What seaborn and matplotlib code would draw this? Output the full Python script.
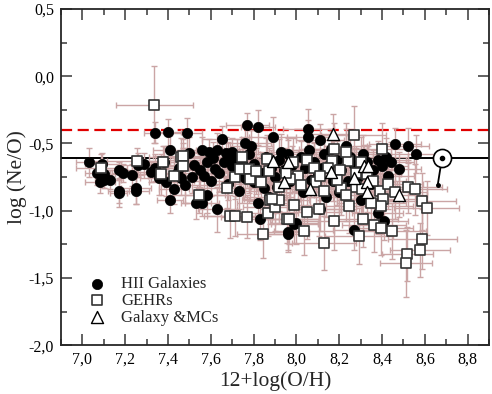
import matplotlib
matplotlib.use("Agg")
import matplotlib.pyplot as plt
import seaborn as sns
import pandas as pd
from matplotlib.ticker import MultipleLocator, FuncFormatter

# (12+log(O/H), log(Ne/O), xerr, yerr)
hii = [
    (7.03, -0.64, 0.06, 0.11), (7.09, -0.65, 0.08, 0.08), (7.07, -0.72, 0.06, 0.09),
    (7.10, -0.73, 0.05, 0.10), (7.08, -0.79, 0.07, 0.08), (7.10, -0.77, 0.04, 0.06),
    (7.13, -0.77, 0.05, 0.07), (7.17, -0.70, 0.06, 0.06), (7.19, -0.72, 0.05, 0.07),
    (7.23, -0.735, 0.06, 0.08), (7.17, -0.855, 0.05, 0.09), (7.25, -0.83, 0.07, 0.12),
    (7.17, -0.87, 0.04, 0.10), (7.25, -0.85, 0.06, 0.10), (7.26, -0.66, 0.08, 0.09),
    (7.29, -0.65, 0.06, 0.08), (7.34, -0.42, 0.05, 0.08), (7.40, -0.415, 0.06, 0.10),
    (7.41, -0.55, 0.08, 0.12), (7.34, -0.68, 0.10, 0.10), (7.32, -0.71, 0.07, 0.08),
    (7.36, -0.76, 0.09, 0.12), (7.39, -0.79, 0.08, 0.10), (7.43, -0.84, 0.07, 0.11),
    (7.41, -0.92, 0.06, 0.10), (7.45, -0.68, 0.10, 0.09), (7.47, -0.62, 0.08, 0.12),
    (7.49, -0.42, 0.07, 0.11), (7.50, -0.57, 0.09, 0.12), (7.56, -0.55, 0.10, 0.10),
    (7.59, -0.56, 0.12, 0.09), (7.63, -0.55, 0.10, 0.13), (7.67, -0.57, 0.08, 0.12),
    (7.70, -0.56, 0.11, 0.10), (7.76, -0.50, 0.12, 0.14), (7.79, -0.52, 0.10, 0.12),
    (7.65, -0.47, 0.09, 0.10), (7.77, -0.36, 0.10, 0.09), (7.82, -0.38, 0.08, 0.13),
    (7.53, -0.94, 0.07, 0.12), (7.56, -0.94, 0.08, 0.10), (7.58, -0.88, 0.10, 0.14),
    (7.63, -0.99, 0.09, 0.17), (7.52, -0.66, 0.12, 0.10), (7.55, -0.70, 0.10, 0.12),
    (7.57, -0.74, 0.09, 0.13), (7.60, -0.78, 0.08, 0.11), (7.62, -0.69, 0.12, 0.12),
    (7.64, -0.72, 0.10, 0.14), (7.66, -0.64, 0.11, 0.10), (7.68, -0.80, 0.09, 0.12),
    (7.70, -0.67, 0.12, 0.12), (7.72, -0.62, 0.10, 0.15), (7.74, -0.71, 0.12, 0.12),
    (7.76, -0.76, 0.10, 0.14), (7.78, -0.58, 0.11, 0.13), (7.80, -0.65, 0.12, 0.12),
    (7.82, -0.94, 0.10, 0.13), (7.83, -1.065, 0.09, 0.15), (7.84, -0.72, 0.13, 0.12),
    (7.86, -0.60, 0.10, 0.14), (7.88, -0.68, 0.12, 0.13), (7.89, -0.455, 0.11, 0.15),
    (7.90, -0.75, 0.13, 0.14), (7.92, -0.62, 0.10, 0.15), (7.94, -0.70, 0.12, 0.12),
    (7.96, -1.17, 0.10, 0.14), (7.96, -0.58, 0.13, 0.12), (7.98, -0.66, 0.11, 0.14),
    (8.00, -1.095, 0.10, 0.15), (8.00, -0.74, 0.12, 0.13), (8.02, -0.60, 0.13, 0.12),
    (8.04, -0.68, 0.10, 0.14), (8.056, -0.39, 0.12, 0.15), (8.055, -0.455, 0.10, 0.13),
    (8.11, -0.475, 0.11, 0.12), (8.06, -0.55, 0.13, 0.14), (8.08, -0.64, 0.12, 0.15),
    (8.10, -0.72, 0.11, 0.14), (8.11, -0.99, 0.10, 0.16), (8.13, -0.58, 0.12, 0.14),
    (8.15, -0.66, 0.13, 0.13), (8.17, -0.78, 0.10, 0.15), (8.19, -0.62, 0.12, 0.14),
    (8.21, -0.70, 0.11, 0.15), (8.23, -0.52, 0.10, 0.13), (8.25, -0.60, 0.12, 0.16),
    (8.27, -1.14, 0.10, 0.15), (8.27, -0.66, 0.12, 0.13), (8.29, -0.75, 0.13, 0.15),
    (8.31, -0.58, 0.10, 0.14), (8.33, -0.64, 0.12, 0.13), (8.36, -0.70, 0.11, 0.15),
    (8.38, -0.62, 0.13, 0.14), (8.40, -0.67, 0.12, 0.16), (8.42, -0.60, 0.10, 0.14),
    (8.44, -0.64, 0.11, 0.15), (8.46, -0.505, 0.12, 0.12), (8.52, -0.517, 0.10, 0.13),
    (8.56, -0.58, 0.12, 0.14), (8.48, -0.69, 0.10, 0.13), (7.99, -1.10, 0.11, 0.14),
    (7.96, -1.16, 0.10, 0.13), (7.58, -0.64, 0.10, 0.11), (7.61, -0.61, 0.11, 0.12),
    (7.68, -0.60, 0.12, 0.11), (7.73, -0.85, 0.10, 0.14), (7.75, -0.66, 0.11, 0.12),
    (7.80, -0.79, 0.12, 0.13), (7.85, -0.83, 0.10, 0.14), (7.91, -0.82, 0.12, 0.15),
    (7.93, -0.56, 0.11, 0.13), (7.97, -0.78, 0.12, 0.14), (8.03, -0.86, 0.10, 0.15),
    (8.07, -0.77, 0.12, 0.13), (8.12, -0.68, 0.11, 0.14), (8.16, -0.54, 0.12, 0.13),
    (8.20, -0.86, 0.10, 0.15), (8.24, -0.78, 0.12, 0.14), (8.30, -0.92, 0.11, 0.15),
    (8.35, -0.80, 0.12, 0.14), (8.40, -0.92, 0.10, 0.15), (8.43, -0.74, 0.12, 0.14),
    (7.46, -0.76, 0.09, 0.12), (7.48, -0.81, 0.10, 0.13), (7.51, -0.75, 0.09, 0.12),
    (7.44, -0.72, 0.10, 0.11), (7.38, -0.64, 0.09, 0.12), (7.71, -0.74, 0.11, 0.13),
    (7.87, -0.90, 0.12, 0.14), (8.14, -0.90, 0.11, 0.15), (8.38, -1.02, 0.12, 0.15),
    (8.41, -1.08, 0.11, 0.14),
]

gehr = [
    (7.336, -0.21, 0.18, 0.29), (7.088, -0.68, 0.12, 0.10), (7.257, -0.63, 0.14, 0.10),
    (7.375, -0.64, 0.12, 0.12), (7.367, -0.73, 0.10, 0.15), (7.428, -0.74, 0.12, 0.13),
    (7.46, -0.60, 0.15, 0.14), (7.544, -0.88, 0.12, 0.14), (7.676, -0.83, 0.14, 0.15),
    (7.688, -1.04, 0.12, 0.16), (7.712, -1.04, 0.13, 0.15), (7.767, -1.045, 0.12, 0.16),
    (7.746, -0.60, 0.14, 0.15), (7.715, -0.75, 0.13, 0.16), (7.738, -0.69, 0.15, 0.15),
    (7.778, -0.69, 0.14, 0.18), (7.781, -0.765, 0.12, 0.16), (7.81, -0.705, 0.15, 0.17),
    (7.836, -0.785, 0.13, 0.16), (7.864, -0.616, 0.15, 0.18), (7.874, -0.705, 0.14, 0.17),
    (7.878, -0.92, 0.13, 0.18), (7.867, -1.016, 0.14, 0.17), (7.90, -0.97, 0.15, 0.18),
    (7.843, -1.17, 0.12, 0.18), (7.468, -0.594, 0.14, 0.13), (7.468, -0.67, 0.12, 0.14),
    (7.955, -1.06, 0.15, 0.18), (7.92, -0.92, 0.14, 0.17), (7.986, -0.636, 0.15, 0.18),
    (8.05, -0.62, 0.14, 0.19), (8.164, -0.63, 0.16, 0.18), (8.243, -0.63, 0.15, 0.19),
    (8.08, -0.68, 0.14, 0.18), (8.146, -0.685, 0.15, 0.17), (8.205, -0.70, 0.16, 0.18),
    (8.006, -0.74, 0.14, 0.19), (8.091, -0.785, 0.15, 0.18), (7.972, -0.767, 0.14, 0.17),
    (8.13, -0.85, 0.15, 0.19), (8.207, -0.83, 0.16, 0.20), (8.278, -0.82, 0.15, 0.19),
    (8.308, -0.84, 0.16, 0.20), (8.39, -0.855, 0.15, 0.19), (8.406, -0.916, 0.16, 0.20),
    (8.394, -0.966, 0.15, 0.21), (7.988, -0.96, 0.14, 0.19), (8.048, -1.01, 0.15, 0.20),
    (8.247, -0.964, 0.16, 0.20), (8.174, -1.08, 0.15, 0.21), (8.034, -1.15, 0.14, 0.18),
    (8.127, -1.24, 0.15, 0.20), (8.313, -1.06, 0.16, 0.21), (8.363, -1.11, 0.15, 0.20),
    (8.293, -1.19, 0.16, 0.21), (8.397, -1.13, 0.15, 0.20), (8.445, -1.15, 0.16, 0.21),
    (8.267, -0.44, 0.15, 0.22), (8.174, -0.544, 0.16, 0.20), (8.231, -0.56, 0.15, 0.21),
    (8.399, -0.544, 0.14, 0.20), (8.521, -0.82, 0.16, 0.20), (8.553, -0.84, 0.15, 0.19),
    (8.587, -0.93, 0.16, 0.21), (8.608, -0.98, 0.15, 0.20), (8.589, -1.21, 0.16, 0.22),
    (8.577, -1.29, 0.14, 0.20), (8.518, -1.32, 0.12, 0.20), (8.512, -1.39, 0.12, 0.25),
    (8.107, -0.99, 0.15, 0.20), (7.964, -1.06, 0.14, 0.19), (7.885, -0.91, 0.13, 0.18),
    (8.33, -0.73, 0.16, 0.19), (8.36, -0.78, 0.15, 0.20), (8.43, -0.80, 0.16, 0.19),
    (8.46, -0.86, 0.15, 0.20), (8.28, -0.72, 0.16, 0.19), (8.02, -0.81, 0.15, 0.18),
    (7.95, -0.72, 0.14, 0.19), (8.11, -0.74, 0.15, 0.18), (8.19, -0.77, 0.16, 0.19),
    (8.23, -0.88, 0.15, 0.20), (7.92, -0.82, 0.14, 0.18), (8.35, -0.94, 0.16, 0.20),
    (8.30, -0.64, 0.15, 0.19),
]

galaxy = [
    (7.89, -0.63, 0.12, 0.15), (7.96, -0.636, 0.13, 0.16), (7.94, -0.79, 0.12, 0.15),
    (8.065, -0.84, 0.13, 0.16), (8.169, -0.43, 0.12, 0.15), (8.16, -0.715, 0.13, 0.16),
    (8.27, -0.76, 0.12, 0.15), (8.316, -0.67, 0.13, 0.16), (8.336, -0.67, 0.12, 0.15),
    (8.332, -0.785, 0.13, 0.16), (8.329, -0.86, 0.12, 0.15), (8.479, -0.884, 0.13, 0.16),
]

solar_neo = -0.61
upper_neo = -0.40
sun = (8.68, -0.61)
sun_old = (8.66, -0.81)

sns.set_style("ticks")
plt.rcParams['font.family'] = ['Liberation Serif', 'DejaVu Serif']

cols = ["oh", "neo", "oh_err", "neo_err"]
df_hii = pd.DataFrame(hii, columns=cols)
df_gehr = pd.DataFrame(gehr, columns=cols)
df_gal = pd.DataFrame(galaxy, columns=cols)

fig = plt.figure(figsize=(4.92, 3.94), dpi=100)
ax = fig.add_axes([0.124, 0.124, 0.870, 0.853])

err_kw = dict(fmt="none", ecolor="#cba5a5", elinewidth=1.0, capsize=2, capthick=1.0, zorder=1)

ax.errorbar(df_hii.oh, df_hii.neo, xerr=df_hii.oh_err, yerr=df_hii.neo_err, **err_kw)
sns.scatterplot(data=df_hii, x="oh", y="neo", ax=ax, marker="o", s=55, color="black",
                edgecolor="black", linewidth=0.5, label="HII Galaxies", zorder=2)
ax.errorbar(df_gehr.oh, df_gehr.neo, xerr=df_gehr.oh_err, yerr=df_gehr.neo_err, **err_kw)
sns.scatterplot(data=df_gehr, x="oh", y="neo", ax=ax, marker="s", s=48, color="white",
                edgecolor="#333333", linewidth=1.2, label="GEHRs", zorder=3)
ax.errorbar(df_gal.oh, df_gal.neo, xerr=df_gal.oh_err, yerr=df_gal.neo_err, **err_kw)
sns.scatterplot(data=df_gal, x="oh", y="neo", ax=ax, marker="^", s=75, color="white",
                edgecolor="black", linewidth=1.0, label="Galaxy &MCs", zorder=4)

ax.axhline(solar_neo, color="black", lw=1.4, zorder=0)
ax.axhline(upper_neo, color="#e00000", lw=1.6, linestyle=(0, (5, 2.5)), zorder=0)

# solar value and its older estimate
ax.plot([sun[0], sun_old[0]], [sun[1], sun_old[1]], color="black", lw=1.3, zorder=5)
ax.plot(sun_old[0], sun_old[1], marker="o", ms=2.5, color="black", zorder=5)
ax.plot(sun[0], sun[1], marker="o", ms=13, mfc="white", mec="black", mew=1.2, zorder=6)
ax.plot(sun[0], sun[1], marker="o", ms=3, color="black", zorder=7)

ax.set_xlim(6.9, 8.9)
ax.set_ylim(-2.0, 0.5)
ax.xaxis.set_major_locator(MultipleLocator(0.2))
ax.xaxis.set_minor_locator(MultipleLocator(0.1))
ax.yaxis.set_major_locator(MultipleLocator(0.5))
ax.yaxis.set_minor_locator(MultipleLocator(0.25))
comma = FuncFormatter(lambda v, p: f"{v:.1f}".replace(".", ","))
ax.xaxis.set_major_formatter(comma)
ax.yaxis.set_major_formatter(comma)

ax.tick_params(which="both", direction="in", top=True, right=True, color="#555555",
               width=1.3, labelsize=11.5, labelcolor="black")
ax.tick_params(which="major", length=8, pad=5)
ax.tick_params(which="minor", length=4)
for sp in ax.spines.values():
    sp.set_linewidth(1.3)

ax.set_xlabel("12+log(O/H)", fontsize=15.5, labelpad=2)
ax.set_ylabel("log (Ne/O)", fontsize=15.5, labelpad=1)

ax.legend(loc="lower left", bbox_to_anchor=(0.03, 0.038), frameon=False, fontsize=12,
          handletextpad=0.45, labelspacing=0.05, borderaxespad=0)

fig.savefig("out.png", dpi=100)
